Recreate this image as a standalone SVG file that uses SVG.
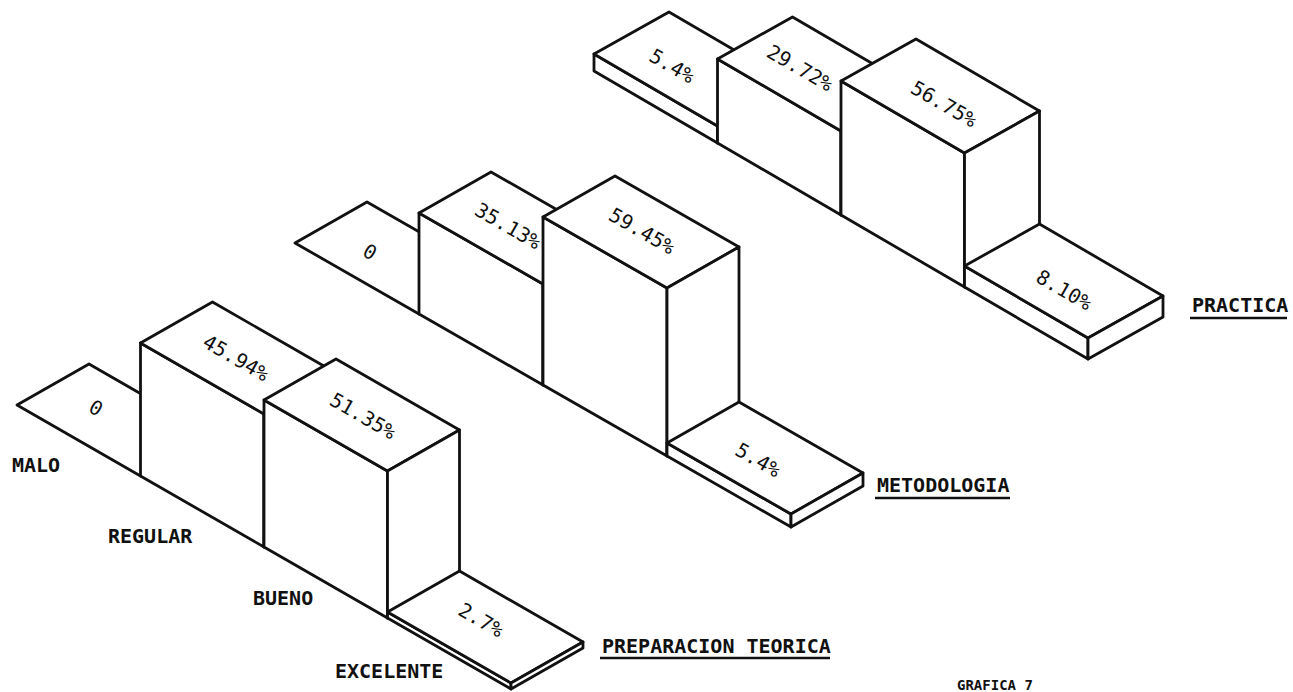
<svg xmlns="http://www.w3.org/2000/svg" width="1293" height="692" viewBox="0 0 1293 692">
<style>
  .f{fill:#fff;stroke:#111;stroke-width:2.8;stroke-linejoin:round}
  .p{font-family:"DejaVu Sans Mono","Liberation Mono",monospace;font-size:20px;fill:#111;text-anchor:middle}
  .l{font-family:"DejaVu Sans Mono","Liberation Mono",monospace;font-size:20px;font-weight:bold;fill:#111}
  .u{stroke:#111;stroke-width:2.4}
</style>
<rect width="1293" height="692" fill="#fff"/>

<!-- Series 3: PRACTICA -->
<g id="practica">
  <g id="p-malo">
    <polygon class="f" points="594,71 717.5,143 717.5,126 594,54"/>
    <polygon class="f" points="594,54 717.5,126 792.5,84 669,12"/>
    <polygon class="f" points="717.5,143 792.5,101 792.5,84 717.5,126"/>
    <text class="p" transform="translate(672,66) rotate(30)" y="7">5.4%</text>
  </g>
  <g id="p-regular">
    <polygon class="f" points="717.5,143 841,215 841,131 717.5,59"/>
    <polygon class="f" points="717.5,59 841,131 916,89 792.5,17"/>
    <polygon class="f" points="841,215 916,173 916,89 841,131"/>
    <text class="p" transform="translate(800,68) rotate(30)" y="7">29.72%</text>
  </g>
  <g id="p-bueno">
    <polygon class="f" points="841,215 964.5,287 964.5,153 841,81"/>
    <polygon class="f" points="841,81 964.5,153 1039.5,111 916,39"/>
    <polygon class="f" points="964.5,287 1039.5,245 1039.5,111 964.5,153"/>
    <text class="p" transform="translate(944,104) rotate(30)" y="7">56.75%</text>
  </g>
  <g id="p-excelente">
    <polygon class="f" points="964.5,287 1088,359 1088,338 964.5,266"/>
    <polygon class="f" points="964.5,266 1088,338 1163,296 1039.5,224"/>
    <polygon class="f" points="1088,359 1163,317 1163,296 1088,338"/>
    <text class="p" transform="translate(1064,290) rotate(30)" y="7">8.10%</text>
  </g>
  <g id="p-label">
    <text class="l" x="1192" y="312">PRACTICA</text>
    <line class="u" x1="1190" y1="318" x2="1287" y2="318"/>
  </g>
</g>

<!-- Series 2: METODOLOGIA -->
<g id="metodologia">
  <g id="m-malo">
    <polygon class="f" points="295,243 419,314 491,273 367,202"/>
    <text class="p" transform="translate(370,252) rotate(30)" y="7">0</text>
  </g>
  <g id="m-regular">
    <polygon class="f" points="419,314 543,385 543,284 419,213"/>
    <polygon class="f" points="419,213 543,284 615,243 491,172"/>
    <polygon class="f" points="543,385 615,344 615,243 543,284"/>
    <text class="p" transform="translate(508,226) rotate(30)" y="7">35.13%</text>
  </g>
  <g id="m-bueno">
    <polygon class="f" points="543,385 667,456 667,288 543,217"/>
    <polygon class="f" points="543,217 667,288 739,247 615,176"/>
    <polygon class="f" points="667,456 739,415 739,247 667,288"/>
    <text class="p" transform="translate(642,231) rotate(30)" y="7">59.45%</text>
  </g>
  <g id="m-excelente">
    <polygon class="f" points="667,456 791,527 791,514 667,443"/>
    <polygon class="f" points="667,443 791,514 863,473 739,402"/>
    <polygon class="f" points="791,527 863,486 863,473 791,514"/>
    <text class="p" transform="translate(758,460) rotate(30)" y="7">5.4%</text>
  </g>
  <g id="m-label">
    <text class="l" x="877" y="492">METODOLOGIA</text>
    <line class="u" x1="875" y1="498" x2="1010" y2="498"/>
  </g>
</g>

<!-- Series 1: PREPARACION TEORICA -->
<g id="preparacion">
  <g id="t-malo">
    <polygon class="f" points="17,405 140.5,476 212.5,435 89,364"/>
    <text class="p" transform="translate(96,408) rotate(30)" y="7">0</text>
  </g>
  <g id="t-regular">
    <polygon class="f" points="140.5,476 264,547 264,414 140.5,343"/>
    <polygon class="f" points="140.5,343 264,414 336,373 212.5,302"/>
    <polygon class="f" points="264,547 336,506 336,373 264,414"/>
    <text class="p" transform="translate(236,358) rotate(30)" y="7">45.94%</text>
  </g>
  <g id="t-bueno">
    <polygon class="f" points="264,547 387.5,618 387.5,471 264,400"/>
    <polygon class="f" points="264,400 387.5,471 459.5,430 336,359"/>
    <polygon class="f" points="387.5,618 459.5,577 459.5,430 387.5,471"/>
    <text class="p" transform="translate(363,416) rotate(30)" y="7">51.35%</text>
  </g>
  <g id="t-excelente">
    <polygon class="f" points="387.5,618 511,689 511,683 387.5,612"/>
    <polygon class="f" points="387.5,612 511,683 583,642 459.5,571"/>
    <polygon class="f" points="511,689 583,648 583,642 511,683"/>
    <text class="p" transform="translate(481,620) rotate(30)" y="7">2.7%</text>
  </g>
  <g id="t-label">
    <text class="l" x="602" y="653">PREPARACION TEORICA</text>
    <line class="u" x1="600" y1="658" x2="830" y2="658"/>
  </g>
</g>

<!-- Category labels -->
<g id="categories">
  <text class="l" x="12" y="472">MALO</text>
  <text class="l" x="108" y="543">REGULAR</text>
  <text class="l" x="253" y="605">BUENO</text>
  <text class="l" x="335" y="678">EXCELENTE</text>
</g>

<g id="caption">
  <text class="l" x="957" y="690" style="font-size:14px">GRAFICA 7</text>
</g>
</svg>
